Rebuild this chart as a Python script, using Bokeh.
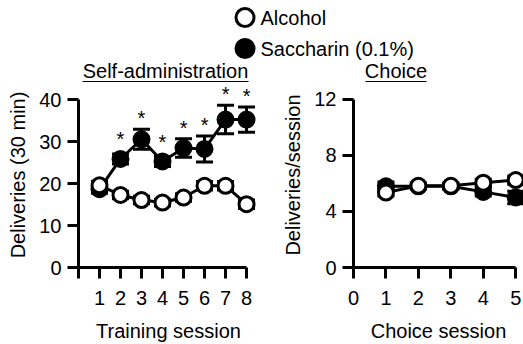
from bokeh.plotting import figure
from bokeh.layouts import column, row
from bokeh.models import Range1d, FixedTicker
from bokeh.core.properties import value
from bokeh.embed import file_html
from bokeh.resources import INLINE

# ---------------- data ----------------
train_sessions = [1, 2, 3, 4, 5, 6, 7, 8]
alcohol_train = [19.6, 17.3, 16.1, 15.5, 16.7, 19.5, 19.5, 15.1]
alcohol_train_err = [1.0, 0.9, 0.9, 0.8, 0.9, 1.0, 1.0, 1.0]
saccharin_train = [18.7, 25.9, 30.6, 25.3, 28.5, 28.3, 35.3, 35.3]
saccharin_train_err = [1.0, 1.2, 2.4, 1.2, 2.2, 3.1, 3.4, 3.0]
significant_sessions = [2, 3, 4, 5, 6, 7, 8]

choice_sessions = [1, 2, 3, 4, 5]
alcohol_choice = [5.35, 5.83, 5.83, 6.06, 6.24]
alcohol_choice_err = [0.25, 0.2, 0.2, 0.25, 0.3]
saccharin_choice = [5.8, 5.8, 5.8, 5.4, 5.0]
saccharin_choice_err = [0.3, 0.2, 0.2, 0.3, 0.45]

train_ticks = [0, 1, 2, 3, 4, 5, 6, 7, 8]
train_yticks = [0, 10, 20, 30, 40]
choice_ticks = [0, 1, 2, 3, 4, 5]
choice_yticks = [0, 4, 8, 12]

legend_labels = ["Alcohol", "Saccharin (0.1%)"]
panel_titles = ["Self-administration", "Choice"]
axis_labels = {
    "train_x": "Training session",
    "train_y": "Deliveries (30 min)",
    "choice_x": "Choice session",
    "choice_y": "Deliveries/session",
}

FONT = "Liberation Sans"
FS = "20px"


def style_axes(p):
    p.grid.visible = False
    p.outline_line_color = None
    for ax in p.axis:
        ax.axis_line_width = 3
        ax.axis_line_color = "black"
        ax.major_tick_line_width = 3
        ax.major_tick_line_color = "black"
        ax.major_tick_in = 0
        ax.major_tick_out = 11
        ax.minor_tick_out = 0
        ax.minor_tick_in = 0
        ax.major_label_text_font = FONT
        ax.major_label_text_font_size = FS
        ax.major_label_text_color = "black"
        ax.axis_label_text_font = FONT
        ax.axis_label_text_font_size = FS
        ax.axis_label_text_font_style = "normal"
        ax.axis_label_text_color = "black"
    p.yaxis.major_label_standoff = 6
    p.yaxis.axis_label_standoff = 7
    p.xaxis.major_label_standoff = 12
    p.xaxis.axis_label_standoff = 12


def series(p, xs, ys, errs, filled):
    lo = [y - e for y, e in zip(ys, errs)]
    hi = [y + e for y, e in zip(ys, errs)]
    p.line(xs, ys, line_width=3, line_color="black")
    p.segment(x0=xs, y0=lo, x1=xs, y1=hi, line_width=3, line_color="black")
    p.scatter(xs, hi, marker="dash", size=17, line_width=3, line_color="black")
    p.scatter(xs, lo, marker="dash", size=17, line_width=3, line_color="black")
    p.scatter(xs, ys, marker="circle", size=15, line_width=3, line_color="black",
              fill_color="black" if filled else "white")


# ---------------- top strip: legend + panel titles ----------------
TOP_H = 82
top = figure(width=523, height=TOP_H, x_range=Range1d(0, 523), y_range=Range1d(TOP_H, 0),
             x_axis_type=None, y_axis_type=None, min_border=0, title=None,
             output_backend="svg", toolbar_location=None)
top.grid.visible = False
top.outline_line_color = None
top.scatter([244.5, 244.5], [17, 48], marker="circle", size=18, line_width=3,
            line_color="black", fill_color=["white", "black"])
top.text(x=[260, 260], y=[17, 48], text=legend_labels, text_font=value(FONT),
         text_font_size=FS, text_align="left", text_baseline="middle", text_color="black")
top.text(x=[165, 395.5], y=[70.2, 70.2], text=panel_titles, text_font=value(FONT),
         text_font_size=FS, text_align="center", text_baseline="middle", text_color="black")
top.segment(x0=[82, 365], y0=[81.2, 81.2], x1=[248, 426], y1=[81.2, 81.2],
            line_width=1.5, line_color="black")

# ---------------- panels (frames share top/bottom in the row) ----------------
PANEL_H = 344 - TOP_H
BORDER_BOTTOM = 76

left = figure(width=258, height=PANEL_H, x_range=Range1d(0, 8.57), y_range=Range1d(0, 44.15),
              min_border_left=78, min_border_right=0, min_border_top=0,
              min_border_bottom=BORDER_BOTTOM,
              title=None, output_backend="svg", toolbar_location=None,
              x_axis_label=axis_labels["train_x"], y_axis_label=axis_labels["train_y"])
style_axes(left)
left.xaxis.ticker = FixedTicker(ticks=train_ticks)
left.xaxis.major_label_overrides = {0: ""}
left.xaxis.bounds = (0, 8)
left.yaxis.ticker = FixedTicker(ticks=train_yticks)
left.yaxis.bounds = (0, 40)
series(left, train_sessions, saccharin_train, saccharin_train_err, True)
series(left, train_sessions, alcohol_train, alcohol_train_err, False)

star_y = []
for s in significant_sessions:
    i = train_sessions.index(s)
    star_y.append(saccharin_train[i] + max(saccharin_train_err[i], 2.1))
left.text(x=significant_sessions, y=star_y, text=["*"] * len(significant_sessions),
          text_font=value(FONT), text_font_size=FS, text_align="center",
          text_baseline="bottom", text_color="black")

right = figure(width=265, height=PANEL_H, x_range=Range1d(0, 5.24), y_range=Range1d(0, 13.21),
               min_border_left=95, min_border_right=0, min_border_top=0,
               min_border_bottom=BORDER_BOTTOM,
               title=None, output_backend="svg", toolbar_location=None,
               x_axis_label=axis_labels["choice_x"], y_axis_label=axis_labels["choice_y"])
style_axes(right)
right.xaxis.ticker = FixedTicker(ticks=choice_ticks)
right.xaxis.bounds = (0, 5)
right.yaxis.ticker = FixedTicker(ticks=choice_yticks)
right.yaxis.bounds = (0, 12)
series(right, choice_sessions, saccharin_choice, saccharin_choice_err, True)
series(right, choice_sessions, alcohol_choice, alcohol_choice_err, False)

layout = column(top, row(left, right))
open("out.html", "w").write(file_html(layout, INLINE))
